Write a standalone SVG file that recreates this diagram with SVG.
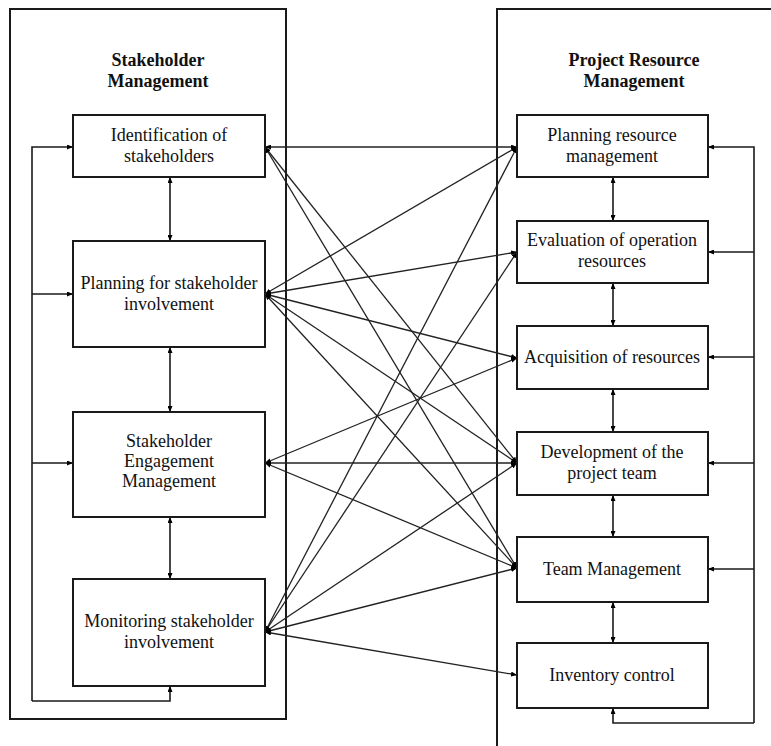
<svg xmlns="http://www.w3.org/2000/svg" width="771" height="746" viewBox="0 0 771 746">
<defs>
<marker id="ah" viewBox="0 0 6 5" refX="6" refY="2.5" markerWidth="6" markerHeight="5" markerUnits="userSpaceOnUse" orient="auto-start-reverse">
<path d="M0,0 L6,2.5 L0,5 z" fill="#000"/>
</marker>
<style>
.frame{fill:none;stroke:#1a1a1a;stroke-width:2}
.box{fill:#fff;stroke:#1a1a1a;stroke-width:2}
.t{font-family:"Liberation Serif","Times New Roman",serif;font-size:18px;fill:#111;text-anchor:middle}
.title{font-weight:bold}
.c{fill:none;stroke:#1a1a1a;stroke-width:1.6}
.x{fill:none;stroke:#222;stroke-width:1.3}
.one{marker-end:url(#ah)}
.two{marker-start:url(#ah);marker-end:url(#ah)}
</style>
</defs>
<rect width="771" height="746" fill="#fff"/>
<g id="frame-stakeholder">
<rect class="frame" x="10" y="9" width="276" height="710"/>
<text class="t title" x="158" y="66">Stakeholder</text>
<text class="t title" x="158" y="87">Management</text>
</g>
<g id="frame-resource">
<path class="frame" d="M497,748 V9 H773"/>
<text class="t title" x="634" y="66">Project Resource</text>
<text class="t title" x="634" y="87">Management</text>
</g>
<g id="connectors">
<path class="c one" d="M32,701 V147 H73"/>
<path class="c one" d="M32,701 H170 V686"/>
<path class="c one" d="M32,294 H73"/>
<path class="c one" d="M32,463 H73"/>
<path class="c one" d="M754,723 V147 H708"/>
<path class="c one" d="M754,723 H613 V708"/>
<path class="c one" d="M754,252 H708"/>
<path class="c one" d="M754,357 H708"/>
<path class="c one" d="M754,463 H708"/>
<path class="c one" d="M754,569 H708"/>
<path class="c two" d="M170,177 V241"/>
<path class="c two" d="M170,347 V412"/>
<path class="c two" d="M170,517 V579"/>
<path class="c two" d="M613,177 V221"/>
<path class="c two" d="M613,283 V326"/>
<path class="c two" d="M613,389 V432"/>
<path class="c two" d="M613,495 V537"/>
<path class="c two" d="M613,602 V643"/>
<path class="x two" d="M265,147 L517,147"/>
<path class="x two" d="M265,147 L517,463"/>
<path class="x two" d="M265,147 L517,568"/>
<path class="x two" d="M265,294 L517,147"/>
<path class="x two" d="M265,294 L517,252"/>
<path class="x two" d="M265,294 L517,358"/>
<path class="x two" d="M265,294 L517,463"/>
<path class="x two" d="M265,294 L517,568"/>
<path class="x two" d="M265,463 L517,358"/>
<path class="x two" d="M265,463 L517,463"/>
<path class="x two" d="M265,463 L517,568"/>
<path class="x two" d="M265,632 L517,147"/>
<path class="x two" d="M265,632 L517,252"/>
<path class="x two" d="M265,632 L517,463"/>
<path class="x two" d="M265,632 L517,568"/>
<path class="x two" d="M265,632 L517,675"/>
</g>
<g id="identification">
<rect class="box" x="73" y="115" width="192" height="62"/>
<text class="t" x="169" y="141">Identification of</text>
<text class="t" x="169" y="162">stakeholders</text>
</g>
<g id="planning-involvement">
<rect class="box" x="73" y="241" width="192" height="106"/>
<text class="t" x="169" y="289">Planning for stakeholder</text>
<text class="t" x="169" y="310">involvement</text>
</g>
<g id="engagement">
<rect class="box" x="73" y="412" width="192" height="105"/>
<text class="t" x="169" y="447">Stakeholder</text>
<text class="t" x="169" y="467">Engagement</text>
<text class="t" x="169" y="487">Management</text>
</g>
<g id="monitoring">
<rect class="box" x="73" y="579" width="192" height="107"/>
<text class="t" x="169" y="627">Monitoring stakeholder</text>
<text class="t" x="169" y="648">involvement</text>
</g>
<g id="planning-resource">
<rect class="box" x="517" y="115" width="191" height="62"/>
<text class="t" x="612" y="141">Planning resource</text>
<text class="t" x="612" y="162">management</text>
</g>
<g id="evaluation">
<rect class="box" x="517" y="221" width="191" height="62"/>
<text class="t" x="612" y="246">Evaluation of operation</text>
<text class="t" x="612" y="267">resources</text>
</g>
<g id="acquisition">
<rect class="box" x="517" y="326" width="191" height="63"/>
<text class="t" x="612" y="363">Acquisition of resources</text>
</g>
<g id="development">
<rect class="box" x="517" y="432" width="191" height="63"/>
<text class="t" x="612" y="458">Development of the</text>
<text class="t" x="612" y="479">project team</text>
</g>
<g id="team-management">
<rect class="box" x="517" y="537" width="191" height="65"/>
<text class="t" x="612" y="575">Team Management</text>
</g>
<g id="inventory">
<rect class="box" x="517" y="643" width="191" height="65"/>
<text class="t" x="612" y="681">Inventory control</text>
</g>
</svg>
